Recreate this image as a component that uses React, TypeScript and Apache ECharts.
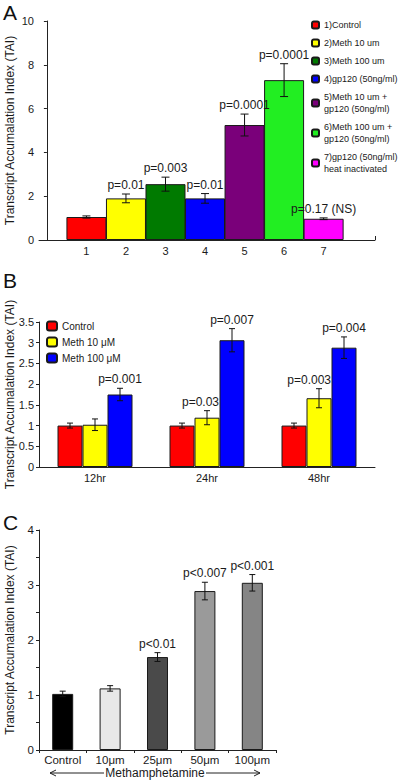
import React, { useEffect, useRef } from "react";
import * as echarts from "echarts";

const FONT = "'Liberation Sans', Arial, Helvetica, sans-serif";
const AXIS_NAME = "Transcript Accumalation Index (TAI)";

// ---------- Panel A ----------
const aPositions = [1, 2, 3, 4, 5, 6, 7];
const aNames = [
  "1)Control",
  "2)Meth 10 um",
  "3)Meth 100 um",
  "4)gp120 (50ng/ml)",
  "5)Meth 10 um +\ngp120 (50ng/ml)",
  "6)Meth 100 um +\ngp120 (50ng/ml)",
  "7)gp120 (50ng/ml)\nheat inactivated",
];
const aValues = [1.05, 1.9, 2.55, 1.9, 5.25, 7.3, 0.97];
const aErrors = [0.05, 0.2, 0.32, 0.22, 0.5, 0.75, 0.04];
const aPLabels = ["", "p=0.01", "p=0.003", "p=0.01", "p=0.0001", "p=0.0001", "p=0.17 (NS)"];
const aColors = ["#ff0000", "#ffff00", "#007a00", "#0000ff", "#7a007a", "#22ee22", "#ff00ff"];

// ---------- Panel B ----------
const bCategories = ["12hr", "24hr", "48hr"];
const bSeriesNames = ["Control", "Meth 10 \u03bcM", "Meth 100 \u03bcM"];
const bControl = [1.0, 1.0, 1.0];
const bControlErr = [0.06, 0.06, 0.06];
const bMeth10 = [1.02, 1.19, 1.66];
const bMeth10Err = [0.14, 0.17, 0.23];
const bMeth100 = [1.75, 3.06, 2.88];
const bMeth100Err = [0.15, 0.28, 0.26];
const bPControl = ["", "", ""];
const bPMeth10 = ["", "p=0.03", "p=0.003"];
const bPMeth100 = ["p=0.001", "p=0.007", "p=0.004"];
const bColors = ["#ff0000", "#ffff00", "#0000ff"];

// ---------- Panel C ----------
const cCategories = ["Control", "10\u03bcm", "25\u03bcm", "50\u03bcm", "100\u03bcm"];
const cValues = [1.02, 1.12, 1.69, 2.89, 3.04];
const cErrors = [0.05, 0.05, 0.08, 0.16, 0.15];
const cPLabels = ["", "", "p<0.01", "p<0.007", "p<0.001"];
const cColors = ["#000000", "#e8e8e8", "#4a4a4a", "#9a9a9a", "#858585"];

function errorBars(
  labels: string[],
  offsetPx: number,
  capHalf: number,
  fontSize: number,
  labelAlign: "center" | "right" = "center",
  labelDx = 0
) {
  return (params: any, api: any) => {
    const x = api.value(0);
    const v = api.value(1);
    const e = api.value(2);
    const top = api.coord([x, v + e]);
    const bot = api.coord([x, v - e]);
    const cx = top[0] + offsetPx;
    const stroke = { stroke: "#111", lineWidth: 1 };
    const children: any[] = [
      { type: "line", shape: { x1: cx, y1: top[1], x2: cx, y2: bot[1] }, style: stroke },
      { type: "line", shape: { x1: cx - capHalf, y1: top[1], x2: cx + capHalf, y2: top[1] }, style: stroke },
      { type: "line", shape: { x1: cx - capHalf, y1: bot[1], x2: cx + capHalf, y2: bot[1] }, style: stroke },
    ];
    const label = labels[params.dataIndex];
    if (label) {
      children.push({
        type: "text",
        x: cx + labelDx,
        y: top[1] - 3,
        z2: 100,
        style: {
          text: label,
          align: labelAlign,
          verticalAlign: "bottom",
          fontSize,
          fontFamily: FONT,
          fill: "#1a1a1a",
        },
      });
    }
    return { type: "group", children };
  };
}

const yAxisCommon = {
  type: "value" as const,
  name: AXIS_NAME,
  nameLocation: "middle" as const,
  nameGap: 23,
  nameMoveOverlap: false,
  nameTextStyle: { fontSize: 12, fontFamily: FONT, color: "#1a1a1a" },
  axisLine: { show: true, lineStyle: { color: "#222", width: 1 } },
  axisTick: { show: true, length: 3, lineStyle: { color: "#222" } },
  splitLine: { show: false },
};

export default function App() {
  const ref = useRef<HTMLDivElement>(null);
  useEffect(() => {
    if (!ref.current) return;
    const chart = echarts.init(ref.current, undefined, { renderer: "svg" });

    const aBarSeries = aNames.map((name, i) => ({
      type: "bar",
      name,
      xAxisIndex: 0,
      yAxisIndex: 0,
      barWidth: 40,
      barGap: "-100%",
      data: [[aPositions[i], aValues[i]]],
      itemStyle: { color: aColors[i], borderColor: "#1a1a1a", borderWidth: 1 },
    }));

    const bValues = [bControl, bMeth10, bMeth100];
    const bErrs = [bControlErr, bMeth10Err, bMeth100Err];
    const bP = [bPControl, bPMeth10, bPMeth100];
    const bBarSeries = bSeriesNames.map((name, s) => ({
      type: "bar",
      name,
      xAxisIndex: 1,
      yAxisIndex: 1,
      barWidth: 25,
      barGap: "0%",
      data: bValues[s],
      itemStyle: { color: bColors[s], borderColor: "#1a1a1a", borderWidth: 1 },
    }));
    const bErrSeries = bSeriesNames.map((name, s) => ({
      type: "custom",
      xAxisIndex: 1,
      yAxisIndex: 1,
      renderItem:
        s === 1
          ? errorBars(bP[s], (s - 1) * 25, 3, 12, "right", 12)
          : errorBars(bP[s], (s - 1) * 25, 3, 12, "center", 0),
      data: bValues[s].map((v, i) => [i, v, bErrs[s][i]]),
      z: 10,
    }));

    const gridCommon = { outerBoundsMode: "none", containLabel: false };

    const option: any = {
      animation: false,
      textStyle: { fontFamily: FONT },
      grid: [
        { ...gridCommon, left: 39, right: 25, top: 21, height: 219 },
        { ...gridCommon, left: 39, right: 25, top: 322, height: 145 },
        { ...gridCommon, left: 39, right: 124, top: 530, height: 220 },
      ],
      xAxis: [
        {
          gridIndex: 0,
          type: "value",
          min: -0.2,
          max: 8.3,
          axisLine: { show: true, onZero: false, lineStyle: { color: "#222" } },
          axisTick: { show: true, customValues: [8.3], inside: true, length: 4, lineStyle: { color: "#222" } },
          axisLabel: {
            customValues: aPositions,
            formatter: (v: number) => String(v),
            fontSize: 11,
            color: "#1a1a1a",
            margin: 5,
          },
          splitLine: { show: false },
        },
        {
          gridIndex: 1,
          type: "category",
          data: bCategories,
          axisLine: { show: true, lineStyle: { color: "#222" } },
          axisTick: { show: false },
          axisLabel: { fontSize: 11, color: "#1a1a1a", margin: 5, interval: 0 },
        },
        {
          gridIndex: 2,
          type: "category",
          data: cCategories,
          axisLine: { show: true, lineStyle: { color: "#222" } },
          axisTick: { show: true, length: 3, lineStyle: { color: "#222" } },
          axisLabel: { fontSize: 11.5, color: "#1a1a1a", margin: 4, interval: 0 },
        },
      ],
      yAxis: [
        {
          ...yAxisCommon,
          gridIndex: 0,
          min: 0,
          max: 10,
          interval: 2,
          axisLabel: { fontSize: 11, color: "#1a1a1a", margin: 5 },
        },
        {
          ...yAxisCommon,
          gridIndex: 1,
          min: 0,
          max: 3.5,
          interval: 0.5,
          axisLabel: { fontSize: 11, color: "#1a1a1a", margin: 5 },
        },
        {
          ...yAxisCommon,
          gridIndex: 2,
          min: 0,
          max: 4,
          interval: 1,
          minorTick: { show: true, splitNumber: 2, length: 3, lineStyle: { color: "#222" } },
          axisLabel: { fontSize: 11.5, color: "#1a1a1a", margin: 5 },
        },
      ],
      legend: [
        {
          data: aNames,
          orient: "vertical",
          left: 311,
          top: 19,
          itemWidth: 7,
          itemHeight: 7,
          itemGap: 6,
          padding: 0,
          selectedMode: false,
          textStyle: { fontSize: 9, lineHeight: 12, color: "#1a1a1a", fontFamily: FONT },
        },
        {
          data: bSeriesNames,
          orient: "vertical",
          left: 46,
          top: 320,
          itemWidth: 10,
          itemHeight: 9,
          itemGap: 4,
          padding: 0,
          selectedMode: false,
          textStyle: { fontSize: 10, lineHeight: 12, color: "#1a1a1a", fontFamily: FONT },
        },
      ],
      series: [
        ...aBarSeries,
        {
          type: "custom",
          xAxisIndex: 0,
          yAxisIndex: 0,
          renderItem: errorBars(aPLabels, 0, 4, 12),
          data: aPositions.map((p, i) => [p, aValues[i], aErrors[i]]),
          z: 10,
        },
        ...bBarSeries,
        ...bErrSeries,
        {
          type: "bar",
          xAxisIndex: 2,
          yAxisIndex: 2,
          barWidth: 21,
          data: cValues.map((v, i) => ({
            value: v,
            itemStyle: { color: cColors[i] },
          })),
          itemStyle: { borderColor: "#1a1a1a", borderWidth: 1 },
        },
        {
          type: "custom",
          xAxisIndex: 2,
          yAxisIndex: 2,
          renderItem: errorBars(cPLabels, 0, 3, 12),
          data: cValues.map((v, i) => [i, v, cErrors[i]]),
          z: 10,
        },
      ],
      graphic: [
        { type: "text", left: 3, top: 2, style: { text: "A", fontSize: 21, fontFamily: FONT, fill: "#111" } },
        { type: "text", left: 3, top: 270, style: { text: "B", fontSize: 21, fontFamily: FONT, fill: "#111" } },
        { type: "text", left: 3, top: 512, style: { text: "C", fontSize: 21, fontFamily: FONT, fill: "#111" } },
        {
          type: "group",
          children: [
            {
              type: "text",
              x: 155,
              y: 773,
              style: {
                text: "Methamphetamine",
                align: "center",
                verticalAlign: "middle",
                fontSize: 12,
                fontFamily: FONT,
                fill: "#1a1a1a",
              },
            },
            { type: "line", shape: { x1: 50, y1: 773, x2: 104, y2: 773 }, style: { stroke: "#222", lineWidth: 1 } },
            { type: "polyline", shape: { points: [[56, 770], [50, 773], [56, 776]] }, style: { stroke: "#222", lineWidth: 1, fill: null } },
            { type: "line", shape: { x1: 206, y1: 773, x2: 260, y2: 773 }, style: { stroke: "#222", lineWidth: 1 } },
            { type: "polyline", shape: { points: [[254, 770], [260, 773], [254, 776]] }, style: { stroke: "#222", lineWidth: 1, fill: null } },
          ],
        },
      ],
    };
    chart.setOption(option);
    return () => chart.dispose();
  }, []);
  return (
    <div
      ref={ref}
      style={{ position: "absolute", left: 0, top: 0, width: 400, height: 782, background: "#fff" }}
    />
  );
}
